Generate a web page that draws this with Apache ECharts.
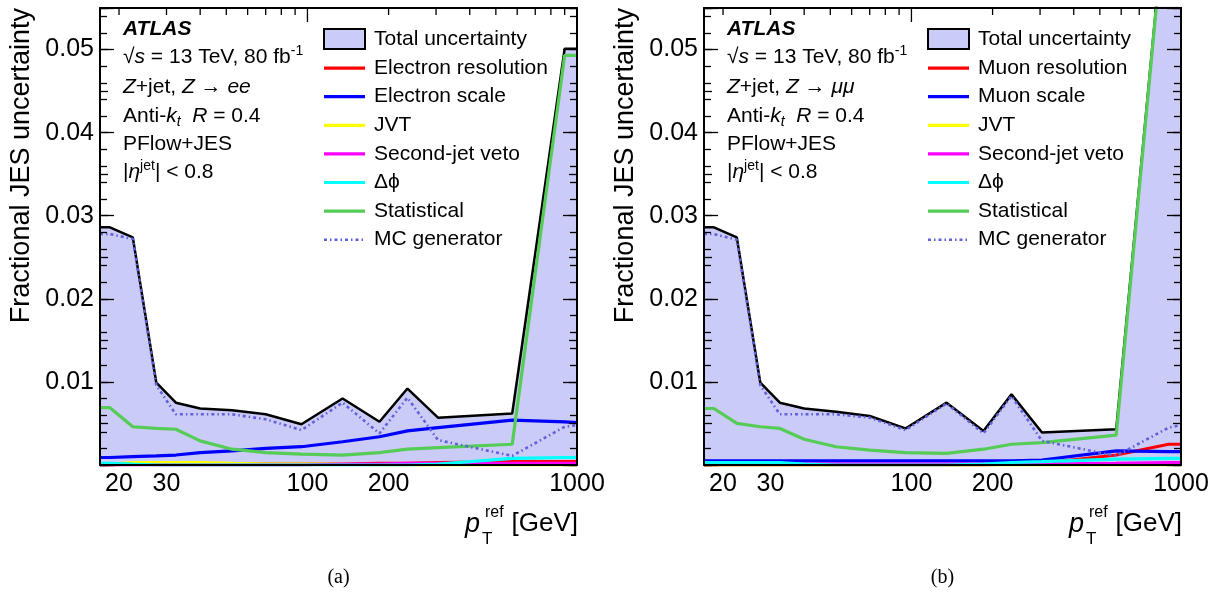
<!DOCTYPE html>
<html><head><meta charset="utf-8">
<script src="https://cdn.jsdelivr.net/npm/echarts@6/dist/echarts.min.js"></script>
<style>html,body{margin:0;padding:0;background:#fff}#c{width:1225px;height:599px}</style>
</head><body><div id="c"></div>
<script>
// ---------------- data ----------------
const ptPoints = [17, 18.5, 22.5, 27.5, 32.5, 40, 52.5, 70, 95, 135, 185, 235, 305, 575, 900, 1000];

// panel (a): Z -> ee
const eeTotal      = [0.0286,0.0286,0.0274,0.0099,0.0075,0.0068,0.0066,0.0061,0.0049,0.0080,0.0052,0.0092,0.0057,0.0062,0.0501,0.0501];
const eeResolution = [0,0,0.0001,0.0001,0.0001,0.0001,0.0001,0.0001,0.0001,0.0001,0.0002,0.0002,0.0003,0.0004,0.0004,0.0004];
const eeScale      = [0.0009,0.0009,0.0010,0.0011,0.0012,0.0015,0.0017,0.0020,0.0022,0.0028,0.0034,0.0041,0.0045,0.0054,0.0052,0.0051];
const eeJVT        = [0.0001,0.0001,0.0003,0.0003,0.0003,0.0003,0.0002,0.0001,0.0001,0.0001,0,0,0,0,0,0];
const eeSecondJet  = [0,0,0,0,0,0,0,0,0,0.0001,0.0001,0.0002,0.0002,0.0002,0.0002,0.0002];
const eeDeltaPhi   = [0.0002,0.0002,0.0001,0,0,0,0,0,0,0,0,0,0.0001,0.0008,0.0009,0.0009];
const eeStat       = [0.0069,0.0069,0.0046,0.0044,0.0043,0.0029,0.0019,0.0015,0.0013,0.0012,0.0015,0.0019,0.0021,0.0025,0.0493,0.0493];
const eeMC         = [0.0278,0.0278,0.0272,0.0096,0.0061,0.0061,0.0061,0.0055,0.0042,0.0075,0.0038,0.0081,0.0030,0.0011,0.0046,0.0048];

// panel (b): Z -> mumu
const mmTotal      = [0.0286,0.0286,0.0274,0.0099,0.0075,0.0068,0.0064,0.0059,0.0044,0.0075,0.0041,0.0085,0.0039,0.0043,0.0712,0.0712];
const mmResolution = [0,0,0,0,0,0,0,0,0,0,0,0.0001,0.0002,0.0012,0.0025,0.0025];
const mmScale      = [0.0005,0.0005,0.0005,0.0005,0.0005,0.0005,0.0005,0.0005,0.0005,0.0005,0.0005,0.0005,0.0006,0.0017,0.0016,0.0016];
const mmJVT        = [0,0,0,0,0,0,0,0,0,0,0,0,0,0,0,0];
const mmSecondJet  = [0,0.0001,0.0001,0.0001,0.0001,0.0001,0.0001,0.0001,0.0001,0.0001,0.0001,0.0001,0.0001,0.0002,0.0003,0.0003];
const mmDeltaPhi   = [0.0003,0.0003,0.0003,0.0003,0.0003,0.0001,0,0,0,0,0.0001,0.0003,0.0004,0.0007,0.0008,0.0008];
const mmStat       = [0.0068,0.0068,0.0050,0.0046,0.0044,0.0031,0.0022,0.0018,0.0015,0.0014,0.0019,0.0025,0.0027,0.0036,0.0710,0.0710];
const mmMC         = [0.0278,0.0278,0.0271,0.0096,0.0061,0.0061,0.0061,0.0057,0.0042,0.0074,0.0038,0.0083,0.0029,0.0011,0.0045,0.0048];

// ticks / labels
const xTickLabels   = [20, 30, 100, 200, 1000];
const xMajorTicks   = [100, 1000];
const xMinorTicks   = [20, 30, 40, 50, 60, 70, 80, 90, 200, 300, 400, 500, 600, 700, 800, 900];

const namesA = ['Total uncertainty','Electron resolution','Electron scale','JVT','Second-jet veto','\u0394\u03D5','Statistical','MC generator'];
const namesB = ['Total uncertainty','Muon resolution','Muon scale','JVT','Second-jet veto','\u0394\u03D5','Statistical','MC generator'];

// ---------------- styling ----------------
const FONT = 'Liberation Sans, Arial, Helvetica, sans-serif';
const FILL = '#cbcbf7';
const COLORS = ['#000000','#ff0000','#0000ff','#ffff00','#ff00ff','#00ffff','#55cc55','#6161dc'];
const X_MIN = 17, X_MAX = 1000, Y_MIN = 0, Y_MAX = 0.055;
const TICK_MAJOR = 14, TICK_MINOR = 7;
const grids = [
  {left: 100, top: 8, width: 477, height: 457},
  {left: 704, top: 8, width: 477, height: 457}
];
const ICON_SOLID = 'path://M0,0 M41,20 M0,8.4 L41,8.4 L41,11.6 L0,11.6 Z';
const ICON_DASHDOT = 'path://M0,0 M41,20 M0,8.7 L3,8.7 L3,11.3 L0,11.3 Z M6,8.7 L7.5,8.7 L7.5,11.3 L6,11.3 Z M10.5,8.7 L13.5,8.7 L13.5,11.3 L10.5,11.3 Z M16.5,8.7 L18,8.7 L18,11.3 L16.5,11.3 Z M21,8.7 L24,8.7 L24,11.3 L21,11.3 Z M27,8.7 L28.5,8.7 L28.5,11.3 L27,11.3 Z M31.5,8.7 L34.5,8.7 L34.5,11.3 L31.5,11.3 Z M37.5,8.7 L39,8.7 L39,11.3 L37.5,11.3 Z';

function pairs(vals){ return ptPoints.map((x,i)=>[x, vals[i]]); }

function xAxesFor(gi){
  const base = {type:'log', logBase:10, gridIndex:gi, min:X_MIN, max:X_MAX, z:10,
    splitLine:{show:false}, minorTick:{show:false}, axisTick:{show:false}, axisLabel:{show:false},
    axisLine:{show:true, onZero:false, lineStyle:{color:'#000', width:2}}};
  return [
    Object.assign({}, base, {position:'bottom'}),
    Object.assign({}, base, {position:'top'})
  ];
}
function yAxesFor(gi){
  const base = {type:'value', gridIndex:gi, min:Y_MIN, max:Y_MAX, z:10, splitLine:{show:false}};
  const tick = (len) => ({show:true, inside:true, length:len, lineStyle:{color:'#000', width:1.3}});
  const minor = {show:true, splitNumber:5, length:TICK_MINOR, lineStyle:{color:'#000', width:1.3}};
  const line = {show:true, onZero:false, lineStyle:{color:'#000', width:2}};
  const noLine = {show:false, onZero:false};
  return [
    Object.assign({}, base, {position:'left', interval:0.01, axisLine:line, axisTick:tick(TICK_MAJOR), minorTick:minor,
      axisLabel:{show:true, showMinLabel:false, showMaxLabel:false, fontSize:25, color:'#000', margin:6, fontFamily:FONT,
                 formatter:v=>(v<=0 || v>0.0505) ? '' : Number(v).toFixed(2)}}),
    Object.assign({}, base, {position:'left', interval:0.005, axisLine:noLine, axisTick:tick(8), minorTick:{show:false}, axisLabel:{show:false}}),
    Object.assign({}, base, {position:'right', interval:0.01, axisLine:line, axisTick:tick(TICK_MAJOR), minorTick:minor, axisLabel:{show:false}}),
    Object.assign({}, base, {position:'right', interval:0.005, axisLine:noLine, axisTick:tick(8), minorTick:{show:false}, axisLabel:{show:false}})
  ];
}

// x-axis ticks (bottom and top), placed with the axis' own log scale
function xTickSeries(gi){
  const data = xMajorTicks.map(v=>[v, Y_MIN, TICK_MAJOR]).concat(xMinorTicks.map(v=>[v, Y_MIN, TICK_MINOR]));
  return {type:'custom', name:'xticks'+gi, xAxisIndex:gi*2, yAxisIndex:gi*4, clip:false, data:data,
    renderItem:(params, api)=>{
      const b = api.coord([api.value(0), Y_MIN]);
      const t = api.coord([api.value(0), Y_MAX]);
      const L = api.value(2);
      return {type:'group', children:[
        {type:'rect', shape:{x:b[0]-0.65, y:b[1]-L, width:1.3, height:L}, style:{fill:'#000'}},
        {type:'rect', shape:{x:t[0]-0.65, y:t[1], width:1.3, height:L}, style:{fill:'#000'}}
      ]};
    }};
}

function seriesFor(gi, names, vals){
  const xi = gi*2, yi = gi*4;
  const out = [];
  out.push({type:'line', name:names[0], xAxisIndex:xi, yAxisIndex:yi, data:pairs(vals[0]), symbol:'none',
    itemStyle:{color:'#000'}, lineStyle:{color:'#000', width:2.5}, areaStyle:{color:FILL, opacity:1, origin:'start'}});
  for(let k=1;k<8;k++){
    const ls = {color:COLORS[k], width: (k===7?2.6:3.2)};
    if(k===7) ls.type = [3,3,1.5,3];
    out.push({type:'line', name:names[k], xAxisIndex:xi, yAxisIndex:yi, data:pairs(vals[k]), symbol:'none',
      itemStyle:{color:COLORS[k]}, lineStyle:ls});
  }
  return out;
}

function legendFor(left, names){
  return {
    left:left, top:28, orient:'vertical', itemWidth:41, itemHeight:20, itemGap:7.6, padding:0,
    selectedMode:false,
    textStyle:{fontSize:21, color:'#000', fontFamily:FONT, padding:[0,0,0,4]},
    data: names.map((n,i)=> i===0
      ? {name:n, icon:'rect', itemStyle:{color:FILL, borderColor:'#000', borderWidth:2}}
      : {name:n, icon:(i===7 ? ICON_DASHDOT : ICON_SOLID), itemStyle:{color:COLORS[i], borderWidth:0}})
  };
}

function infoGraphics(ox, leptonText){
  const n = {fontSize:21, fontFamily:FONT, fill:'#000', lineHeight:26};
  const it = Object.assign({}, n, {fontStyle:'italic'});
  const sup = {fontSize:14, fontFamily:FONT, fill:'#000', lineHeight:12, verticalAlign:'top'};
  const sub = {fontSize:14, fontFamily:FONT, fill:'#000', fontStyle:'italic', lineHeight:12, verticalAlign:'bottom'};
  const rich = {n:n, i:it, sup:sup, sub:sub};
  const mk = (y, text) => ({type:'text', x:ox, y:y,
    style:{text:text, rich:rich, align:'left', textAlign:'left', verticalAlign:'middle', textVerticalAlign:'middle', fontSize:21, fontFamily:FONT, fill:'#000'}});
  return [
    {type:'text', x:ox, y:29, style:{text:'ATLAS', fontSize:21, fontWeight:'bold', fontStyle:'italic', fontFamily:FONT, fill:'#000',
      align:'left', textAlign:'left', verticalAlign:'middle', textVerticalAlign:'middle'}},
    mk(57, '{n|\u221A}{i|s}{n| = 13 TeV, 80 fb}{sup|-1}'),
    mk(87, '{i|Z}{n|+jet, }{i|Z}{n| \u2192 }{i|' + leptonText + '}'),
    mk(116, '{n|Anti-}{i|k}{sub|t}{n|  }{i|R}{n| = 0.4}'),
    mk(144, '{n|PFlow+JES}'),
    mk(172, '{n||}{i|\u03B7}{sup|jet}{n|| < 0.8}')
  ];
}

function axisTitleGraphics(gridLeft, gridRight, caption){
  const c = '#000';
  return [
    {type:'text', x:gridRight+1, y:524, style:{text:'[GeV]', fontSize:26, fontFamily:FONT, fill:c,
      align:'right', textAlign:'right', verticalAlign:'middle', textVerticalAlign:'middle'}},
    {type:'text', x:gridRight-112, y:524, style:{text:'p', fontSize:27, fontStyle:'italic', fontFamily:FONT, fill:c,
      align:'left', textAlign:'left', verticalAlign:'middle', textVerticalAlign:'middle'}},
    {type:'text', x:gridRight-92, y:513, style:{text:'ref', fontSize:16, fontFamily:FONT, fill:c,
      align:'left', textAlign:'left', verticalAlign:'middle', textVerticalAlign:'middle'}},
    {type:'text', x:gridRight-95, y:539, style:{text:'T', fontSize:17, fontFamily:FONT, fill:c,
      align:'left', textAlign:'left', verticalAlign:'middle', textVerticalAlign:'middle'}},
    {type:'text', x:gridLeft-78, y:8, rotation:Math.PI/2, style:{text:'Fractional JES uncertainty', fontSize:27, fontFamily:FONT, fill:c,
      align:'right', textAlign:'right', verticalAlign:'middle', textVerticalAlign:'middle'}},
    {type:'text', x:(gridLeft+gridRight)/2, y:578, style:{text:caption, fontSize:20, fontFamily:'Liberation Serif, Times New Roman, serif', fill:c,
      align:'center', textAlign:'center', verticalAlign:'middle', textVerticalAlign:'middle'}}
  ];
}

const valsA = [eeTotal, eeResolution, eeScale, eeJVT, eeSecondJet, eeDeltaPhi, eeStat, eeMC];
const valsB = [mmTotal, mmResolution, mmScale, mmJVT, mmSecondJet, mmDeltaPhi, mmStat, mmMC];

const chart = echarts.init(document.getElementById('c'), null, {renderer:'canvas'});
chart.setOption({
  animation:false,
  grid: grids,
  xAxis: xAxesFor(0).concat(xAxesFor(1)),
  yAxis: yAxesFor(0).concat(yAxesFor(1)),
  legend: [legendFor(323, namesA), legendFor(927, namesB)],
  series: seriesFor(0, namesA, valsA).concat(seriesFor(1, namesB, valsB)).concat([xTickSeries(0), xTickSeries(1)])
});

// x tick labels (20, 30, 100, 200, 1000) placed through the log axis scale
function xLabelGraphics(gi){
  return xTickLabels.map(v=>{
    const p = chart.convertToPixel({gridIndex:gi}, [v, Y_MIN]);
    return {type:'text', x:p[0], y:p[1]+7, style:{text:String(v), fontSize:25, fontFamily:FONT, fill:'#000',
      align:'center', textAlign:'center', verticalAlign:'top', textVerticalAlign:'top'}};
  });
}

chart.setOption({
  graphic: infoGraphics(123, 'ee').concat(infoGraphics(727, '\u03BC\u03BC'))
           .concat(axisTitleGraphics(100, 577, '(a)')).concat(axisTitleGraphics(704, 1181, '(b)'))
           .concat(xLabelGraphics(0)).concat(xLabelGraphics(1))
});
</script>
</body></html>
